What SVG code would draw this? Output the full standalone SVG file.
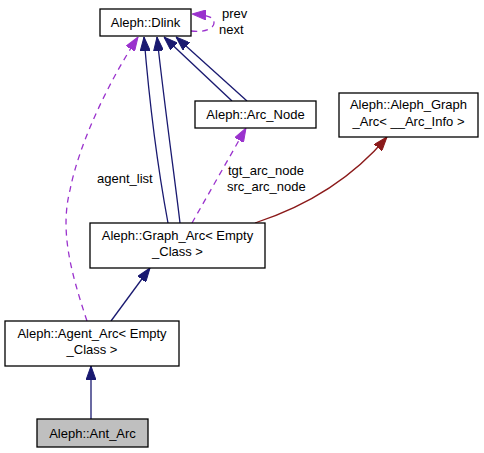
<svg xmlns="http://www.w3.org/2000/svg" width="484" height="453" viewBox="0 0 484 453">
<style>
.node rect{fill:#ffffff;stroke:#000000;stroke-width:1.3}
.node text{font-family:"Liberation Sans",Arial,sans-serif;font-size:13px;fill:#000000;text-anchor:middle}
.lbl{font-family:"Liberation Sans",Arial,sans-serif;font-size:13px;fill:#000000}
.inh{fill:none;stroke:#191970;stroke-width:1.3}
.use{fill:none;stroke:#9a32cd;stroke-width:1.3;stroke-dasharray:6,5}
.tpl{fill:none;stroke:#8b1a1a;stroke-width:1.3}
</style>
<defs>
<marker id="aNavy" viewBox="0 0 14 10" refX="14" refY="5" markerWidth="14" markerHeight="10" orient="auto" markerUnits="userSpaceOnUse"><path d="M0,0 L14,5 L0,10 z" fill="#191970" stroke="#191970"/></marker>
<marker id="aPurple" viewBox="0 0 14 10" refX="14" refY="5" markerWidth="14" markerHeight="10" orient="auto" markerUnits="userSpaceOnUse"><path d="M0,0 L14,5 L0,10 z" fill="#9a32cd" stroke="#9a32cd"/></marker>
<marker id="aRed" viewBox="0 0 14 10" refX="14" refY="5" markerWidth="14" markerHeight="10" orient="auto" markerUnits="userSpaceOnUse"><path d="M0,0 L14,5 L0,10 z" fill="#8b1a1a" stroke="#8b1a1a"/></marker>
</defs>
<rect width="484" height="453" fill="#ffffff"/>
<g id="edges">
<path class="inh" d="M91,419 L91,366" marker-end="url(#aNavy)"/>
<path class="inh" d="M111,321 L150,268" marker-end="url(#aNavy)"/>
<path class="inh" d="M168,223 C 160,180 150,110 144,37" marker-end="url(#aNavy)"/>
<path class="inh" d="M180,223 C 175,180 165,110 157,37" marker-end="url(#aNavy)"/>
<path class="inh" d="M232,101 L164,37" marker-end="url(#aNavy)"/>
<path class="inh" d="M247,101 L176,37" marker-end="url(#aNavy)"/>
<path class="use" d="M87,321 C 70,270 60,230 70,190 C 80,140 110,80 138,37" marker-end="url(#aPurple)"/>
<text class="lbl" x="97" y="183">agent_list</text>
<path class="use" d="M192,223 L246,128" marker-end="url(#aPurple)"/>
<text class="lbl" x="228" y="175">tgt_arc_node</text>
<text class="lbl" x="227" y="191">src_arc_node</text>
<path class="use" d="M191,31 C 205,33 214,28 214,23 C 214,17 208,15 192,14" marker-end="url(#aPurple)"/>
<text class="lbl" x="222" y="18">prev</text>
<text class="lbl" x="219" y="34">next</text>
<path class="tpl" d="M255,223 C 310,205 355,175 387,137" marker-end="url(#aRed)"/>
</g>
<g id="dlink" class="node"><rect x="100" y="9" width="91" height="27"/><text x="145.5" y="27">Aleph::Dlink</text></g>
<g id="arc_node" class="node"><rect x="195" y="101" width="121" height="27"/><text x="255.5" y="119">Aleph::Arc_Node</text></g>
<g id="aleph_graph_arc" class="node"><rect x="339" y="93" width="139" height="44"/><text x="408.5" y="109">Aleph::Aleph_Graph</text><text x="408.5" y="125.5">_Arc&lt; __Arc_Info &gt;</text></g>
<g id="graph_arc" class="node"><rect x="90" y="223" width="175" height="45"/><text x="177.5" y="239.5">Aleph::Graph_Arc&lt; Empty</text><text x="177.5" y="256">_Class &gt;</text></g>
<g id="agent_arc" class="node"><rect x="5" y="321" width="174" height="45"/><text x="92" y="337.5">Aleph::Agent_Arc&lt; Empty</text><text x="92" y="354">_Class &gt;</text></g>
<g id="ant_arc" class="node"><rect x="37" y="419" width="111" height="28" style="fill:#bfbfbf"/><text x="92.5" y="437.5">Aleph::Ant_Arc</text></g>
</svg>
